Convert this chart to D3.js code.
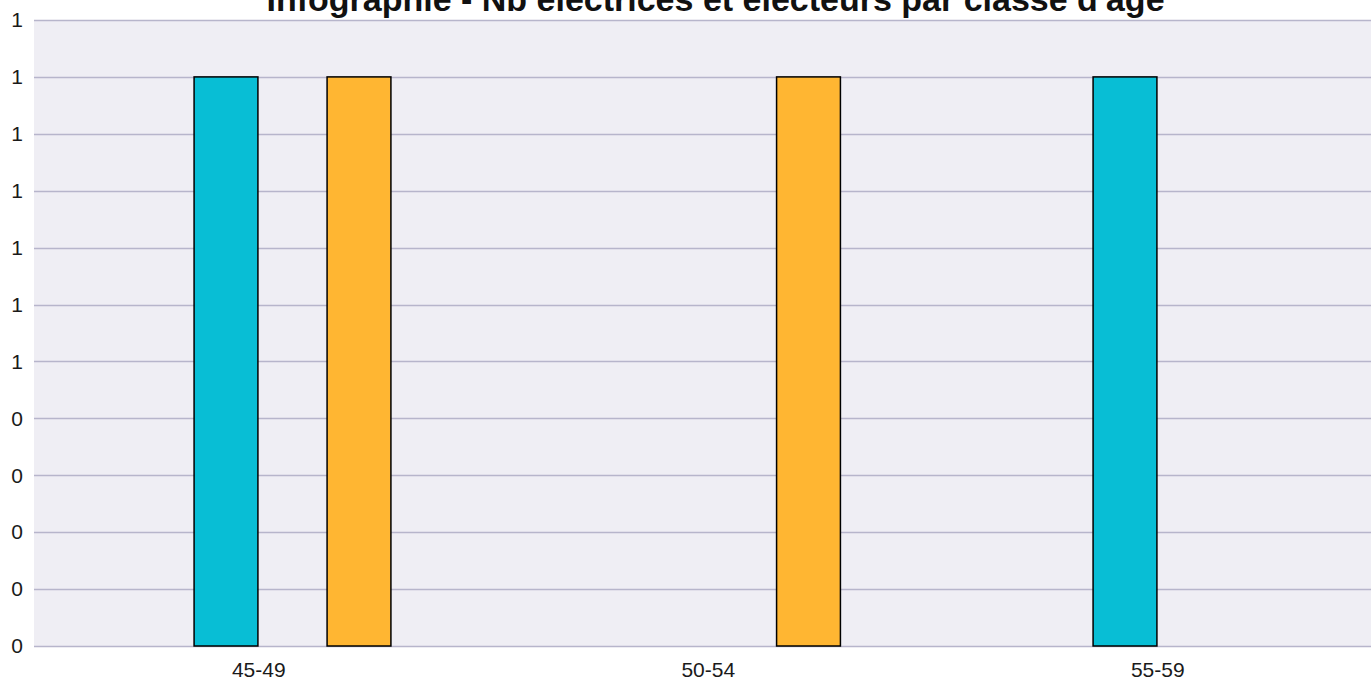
<!DOCTYPE html>
<html>
<head>
<meta charset="utf-8">
<script src="https://cdn.jsdelivr.net/npm/d3@7"></script>
<style>
  html, body { margin: 0; padding: 0; background: #ffffff; overflow: hidden; }
  svg { display: block; font-family: "Liberation Sans", Arial, Helvetica, sans-serif; }
</style>
</head>
<body>
<svg id="chart" width="1371" height="680"></svg>
<script>
const title = "Infographie - Nb électrices et électeurs par classe d'âge";
const categories = ["45-49", "50-54", "55-59"];
const seriesNames = ["Électrices", "Électeurs"];
const electrices = [1, 0, 1];
const electeurs = [1, 1, 0];
const yTickValues = [0, 0.1, 0.2, 0.3, 0.4, 0.5, 0.6, 0.7, 0.8, 0.9, 1.0, 1.1];
const yTickLabels = ["0", "0", "0", "0", "0", "1", "1", "1", "1", "1", "1", "1"];
const colors = ["#08bed5", "#ffb632"];

const svg = d3.select("#chart");
const plotLeft = 34, plotRight = 1382.5, plotTop = 20, plotBottom = 646;

const x0 = d3.scaleBand().domain(categories).range([plotLeft, plotRight]).padding(0);
const x1 = d3.scaleBand().domain(seriesNames).range([125.5, 391.5]).paddingInner(0.52).paddingOuter(0.26);
const y = d3.scaleLinear().domain([0, 1.1]).range([plotBottom, plotTop]);
const color = d3.scaleOrdinal().domain(seriesNames).range(colors);

// plot background
svg.append("rect")
  .attr("x", plotLeft).attr("y", plotTop)
  .attr("width", 1371 - plotLeft).attr("height", plotBottom - plotTop)
  .attr("fill", "#efeef4");

// gridlines
svg.append("g")
  .selectAll("line").data(yTickValues).join("line")
  .attr("x1", plotLeft).attr("x2", 1371)
  .attr("y1", d => Math.round(y(d)) + 0.5).attr("y2", d => Math.round(y(d)) + 0.5)
  .attr("stroke", "#b7b5cb").attr("stroke-width", 1.5);

// y axis labels
const yAxis = d3.axisLeft(y).tickValues(yTickValues)
  .tickFormat((d, i) => yTickLabels[i]).tickSize(0).tickPadding(11);
const gy = svg.append("g").attr("transform", `translate(${plotLeft},0)`).call(yAxis);
gy.select(".domain").remove();
gy.selectAll("text").attr("font-size", 21).attr("fill", "#1a1a1a")
  .attr("font-family", "'Liberation Sans', Arial, sans-serif");

// x axis labels
const xAxis = d3.axisBottom(x0).tickSize(0).tickPadding(16);
const gx = svg.append("g").attr("transform", `translate(0,${plotBottom})`).call(xAxis);
gx.select(".domain").remove();
gx.selectAll("text").attr("font-size", 21).attr("fill", "#1a1a1a")
  .attr("font-family", "'Liberation Sans', Arial, sans-serif");

// bars
const rows = categories.map((c, i) => ({
  cat: c,
  values: [
    { key: seriesNames[0], value: electrices[i] },
    { key: seriesNames[1], value: electeurs[i] }
  ]
}));

svg.append("g")
  .selectAll("g").data(rows).join("g")
  .attr("transform", d => `translate(${x0(d.cat)},0)`)
  .selectAll("rect").data(d => d.values.filter(v => v.value > 0)).join("rect")
  .attr("x", d => x1(d.key))
  .attr("width", x1.bandwidth())
  .attr("y", d => y(d.value))
  .attr("height", d => y(0) - y(d.value))
  .attr("fill", d => color(d.key))
  .attr("stroke", "#000")
  .attr("stroke-width", 1.5);

// title
svg.append("text")
  .attr("x", 715.5).attr("y", 11)
  .attr("text-anchor", "middle")
  .attr("font-size", 34).attr("font-weight", "bold")
  .attr("fill", "#111")
  .text(title);
</script>
</body>
</html>
